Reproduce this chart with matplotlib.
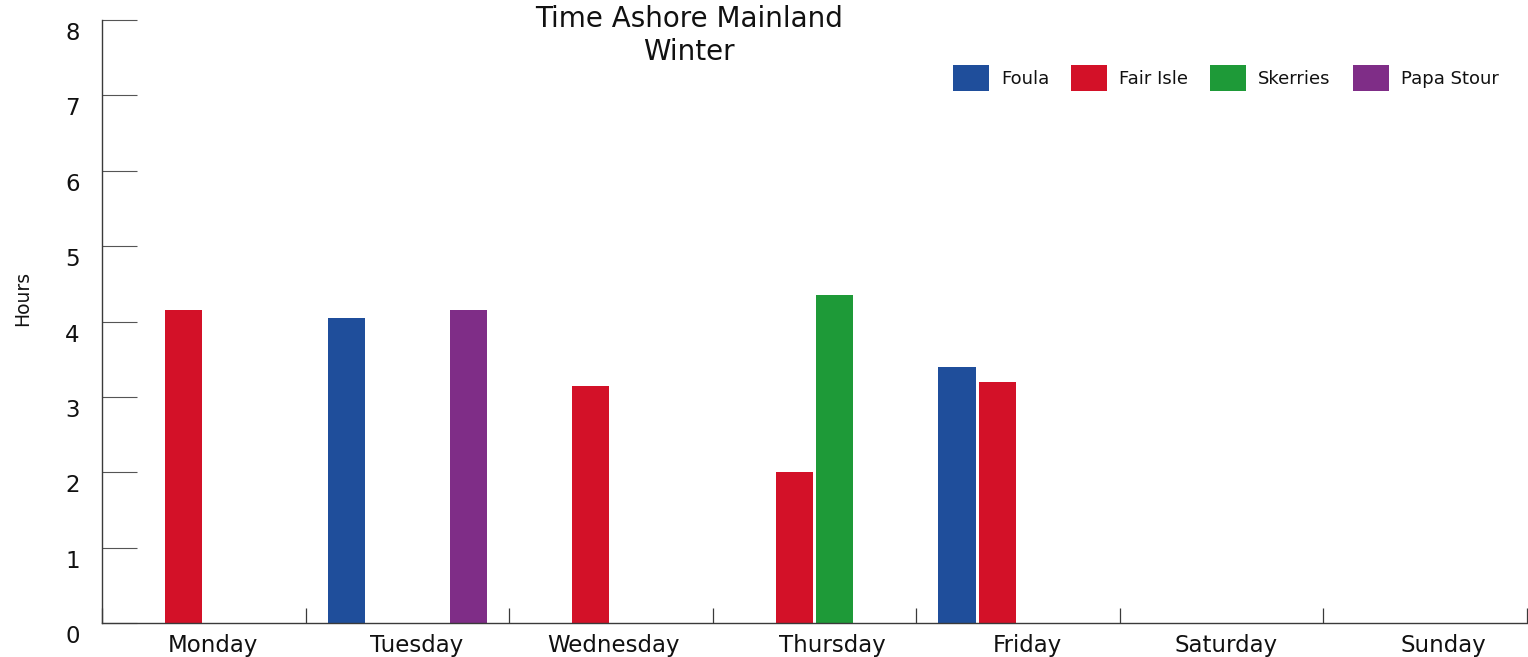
import matplotlib
matplotlib.use('Agg')
import matplotlib.pyplot as plt
import numpy as np
from matplotlib.transforms import ScaledTranslation

# ---- data ----
days = ['Monday', 'Tuesday', 'Wednesday', 'Thursday', 'Friday', 'Saturday', 'Sunday']
series_names = ['Foula', 'Fair Isle', 'Skerries', 'Papa Stour']
foula = [0, 4.05, 0, 0, 3.4, 0, 0]
fair_isle = [4.15, 0, 3.15, 2.0, 3.2, 0, 0]
skerries = [0, 0, 0, 4.35, 0, 0, 0]
papa_stour = [0, 4.15, 0, 0, 0, 0, 0]
y_ticks = [0, 1, 2, 3, 4, 5, 6, 7, 8]
title_lines = ['Time Ashore Mainland', 'Winter']
y_label = 'Hours'

# ---- style ----
colors = ['#1f4e9b', '#d31128', '#1e9a38', '#7f2d87']
W, H, DPI = 1528, 657, 100
label_nudge_px = [9, 9, 3, 18, 9, 4, 18]
font = 'DejaVu Sans'

fig = plt.figure(figsize=(W / DPI, H / DPI), dpi=DPI)
ax = fig.add_axes([102 / W, (H - 623) / H, (1527 - 102) / W, (623 - 20) / H])

values = [foula, fair_isle, skerries, papa_stour]
x = np.arange(len(days)) + 0.5
bw = 0.182
step = 0.2
for i, (name, vals, c) in enumerate(zip(series_names, values, colors)):
    ax.bar(x + (i - 1.5) * step, vals, width=bw, color=c, label=name,
           edgecolor='none', zorder=2)

ax.set_xlim(0, len(days))
ax.set_ylim(0, 8)

for s in ['top', 'right']:
    ax.spines[s].set_visible(False)
for s in ['left', 'bottom']:
    ax.spines[s].set_color('#3a3a3a')
    ax.spines[s].set_linewidth(1.0)
    ax.spines[s].set_zorder(3)

# y axis
ax.set_yticks(y_ticks)
ax.set_yticklabels([str(v) for v in y_ticks], fontsize=16.5, family=font)
ax.tick_params(axis='y', direction='in', length=25, width=0.8, color='#555555',
               pad=16, labelcolor='#111111')
off = ScaledTranslation(0, -11 / DPI, fig.dpi_scale_trans)
for lab in ax.get_yticklabels():
    lab.set_transform(lab.get_transform() + off)

# x axis: boundary ticks (major) and day labels (minor)
ax.set_xticks(np.arange(len(days) + 1))
ax.set_xticklabels([])
ax.tick_params(axis='x', which='major', direction='in', length=11, width=0.9,
               color='#3a3a3a')
ax.set_xticks(x, minor=True)
ax.set_xticklabels(days, minor=True, fontsize=16.5, family=font, color='#111111')
ax.tick_params(axis='x', which='minor', length=0, pad=8)
for lab, dx in zip(ax.get_xticklabels(minor=True), label_nudge_px):
    lab.set_transform(lab.get_transform() + ScaledTranslation(dx / DPI, 0, fig.dpi_scale_trans))

# y label
fig.text(23 / W, 1 - 298 / H, y_label, rotation=90, ha='center', va='center',
         fontsize=13.5, family=font, color='#111111')

# title
fig.text(689 / W, 1 - 27 / H, title_lines[0], ha='center', va='baseline',
         fontsize=20, family=font, color='#111111')
fig.text(689 / W, 1 - 60 / H, title_lines[1], ha='center', va='baseline',
         fontsize=20, family=font, color='#111111')

# legend
fs = 13
px_per_em = fs * DPI / 72
leg = ax.legend(loc='upper left', bbox_to_anchor=(953 / W, 1 - 65 / H),
                bbox_transform=fig.transFigure, ncol=4, frameon=False,
                borderpad=0, borderaxespad=0,
                handlelength=36 / px_per_em, handleheight=1.84,
                handletextpad=12 / px_per_em, columnspacing=22 / px_per_em,
                prop={'family': font, 'size': fs})
for t in leg.get_texts():
    t.set_color('#111111')

fig.savefig('out.png', dpi=DPI)
